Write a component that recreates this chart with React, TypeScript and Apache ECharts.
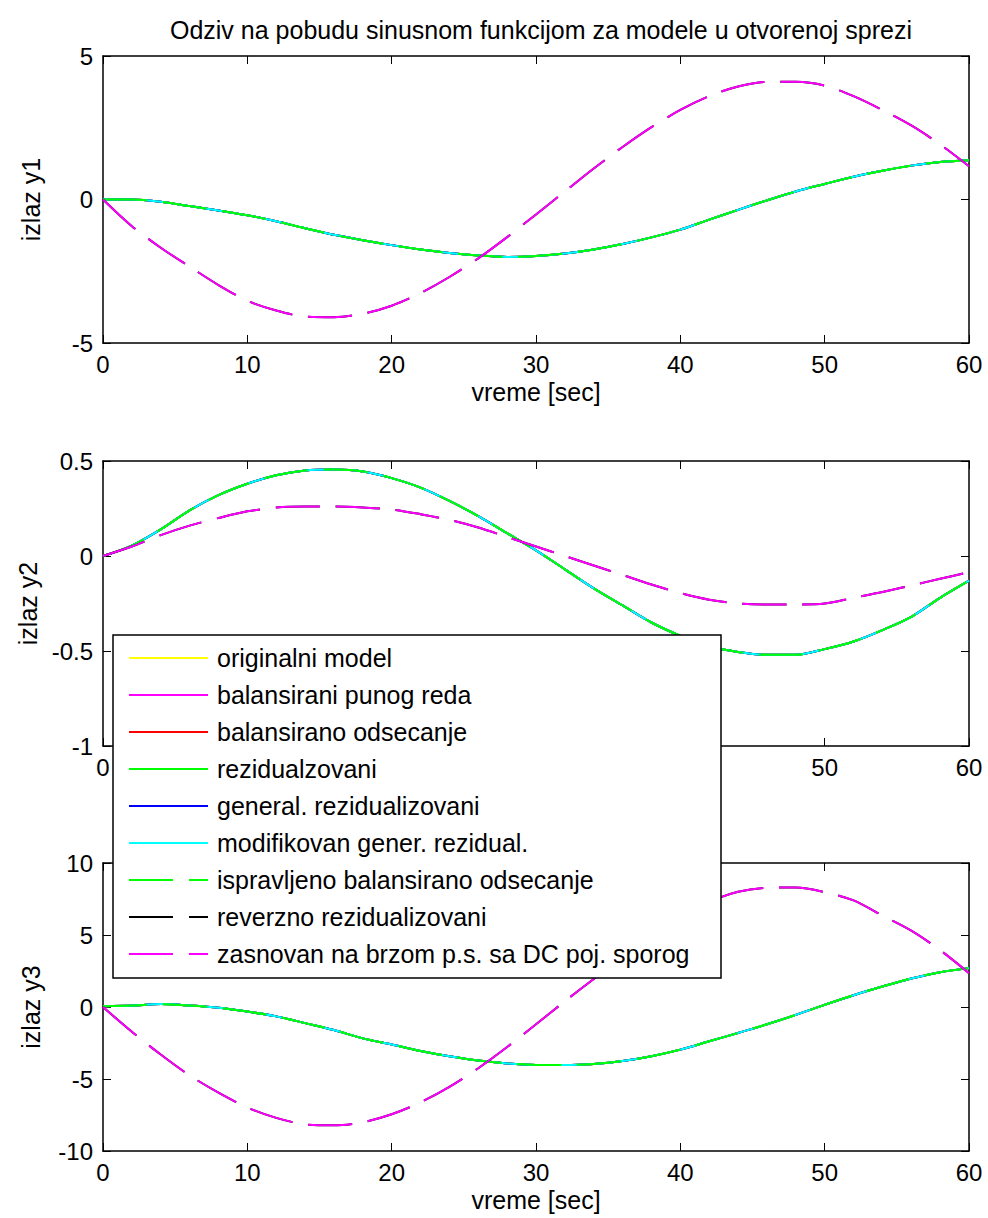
import React, { useEffect, useRef } from "react";
import * as echarts from "echarts";

const FONT = "'Liberation Sans', Arial, Helvetica, sans-serif";

const TITLE = "Odziv na pobudu sinusnom funkcijom za modele u otvorenoj sprezi";
const X_NAME = "vreme [sec]";
const Y_NAMES = ["izlaz y1", "izlaz y2", "izlaz y3"];

const T = [0, 2, 4, 6, 8, 10, 12, 14, 16, 18, 20, 22, 24, 26, 28, 30, 32, 34, 36, 38, 40, 42, 44, 46, 48, 50, 52, 54, 56, 58, 60];

// output 1
const y1Small = [0, 0, -0.08, -0.23, -0.38, -0.55, -0.76, -1.0, -1.23, -1.42, -1.59, -1.74, -1.86, -1.95, -2.0, -1.97, -1.88, -1.74, -1.55, -1.32, -1.05, -0.7, -0.36, -0.03, 0.28, 0.54, 0.79, 1.0, 1.18, 1.31, 1.37];
const y1Large = [0, -0.93, -1.68, -2.34, -2.98, -3.53, -3.87, -4.08, -4.1, -3.98, -3.7, -3.26, -2.7, -2.05, -1.31, -0.52, 0.28, 1.08, 1.83, 2.52, 3.12, 3.6, 3.94, 4.1, 4.1, 3.97, 3.6, 3.12, 2.58, 1.92, 1.16];
// output 2
const y2Small = [0, 0.055, 0.14, 0.24, 0.32, 0.38, 0.425, 0.45, 0.455, 0.445, 0.41, 0.36, 0.29, 0.21, 0.12, 0.03, -0.07, -0.17, -0.26, -0.35, -0.42, -0.475, -0.505, -0.52, -0.52, -0.49, -0.45, -0.39, -0.32, -0.22, -0.13];
const y2Large = [0, 0.05, 0.11, 0.16, 0.2, 0.235, 0.255, 0.26, 0.26, 0.255, 0.245, 0.22, 0.19, 0.15, 0.1, 0.05, 0.0, -0.05, -0.1, -0.15, -0.195, -0.23, -0.25, -0.255, -0.255, -0.25, -0.22, -0.19, -0.155, -0.12, -0.085];
// output 3
const y3Small = [0.05, 0.1, 0.2, 0.1, -0.05, -0.32, -0.65, -1.12, -1.6, -2.18, -2.6, -3.05, -3.42, -3.72, -3.92, -4.02, -4.03, -3.95, -3.75, -3.42, -2.96, -2.38, -1.8, -1.2, -0.55, 0.15, 0.82, 1.42, 1.98, 2.42, 2.7];
const y3Large = [0, -1.72, -3.3, -4.75, -5.95, -6.98, -7.7, -8.15, -8.22, -8.0, -7.45, -6.62, -5.55, -4.25, -2.78, -1.2, 0.4, 1.95, 3.45, 4.82, 6.2, 7.3, 8.0, 8.28, 8.3, 7.98, 7.4, 6.35, 5.3, 3.95, 2.35];

const SMALL = [y1Small, y2Small, y3Small];
const LARGE = [y1Large, y2Large, y3Large];

const MODEL_NAMES = [
  "originalni model",
  "balansirani punog reda",
  "balansirano odsecanje",
  "rezidualzovani",
  "general. rezidualizovani",
  "modifikovan gener. rezidual.",
  "ispravljeno balansirano odsecanje",
  "reverzno rezidualizovani",
  "zasnovan na brzom p.s. sa DC poj. sporog",
];
const MODEL_COLORS = ["#ffff00", "#ff00ff", "#ff0000", "#00ff00", "#0000ff", "#00ffff", "#00ff00", "#000000", "#ff00ff"];
const MODEL_DASHED = [false, false, false, false, false, false, true, true, true];
// which curve each model follows: 0 = small response, 1 = large response
const MODEL_CURVE = [0, 0, 0, 0, 0, 0, 0, 1, 1];

const Y_MIN = [-5, -1, -10];
const Y_MAX = [5, 0.5, 10];
const Y_STEP = [5, 0.5, 5];
// tick labels of the middle plot hidden behind the legend box
const HIDDEN_X_LABELS_PLOT2 = [10, 20, 30, 40];

const GRIDS = [
  { left: 103, top: 56, width: 866, height: 287 },
  { left: 103, top: 461, width: 866, height: 285 },
  { left: 103, top: 863, width: 866, height: 288 },
];

const LEGEND_BOX = { x: 113, y: 635, width: 608, height: 343 };
const DASH = [44, 16];

export default function App() {
  const ref = useRef<HTMLDivElement>(null);

  useEffect(() => {
    if (!ref.current) return;
    const chart = echarts.init(ref.current, undefined, { renderer: "svg" });

    const axisLine = { show: true, onZero: false, lineStyle: { color: "#000", width: 1.5 } };
    const axisTick = { show: true, inside: true, length: 8, lineStyle: { color: "#000", width: 1 } };
    const labelStyle = { color: "#000", fontSize: 24, fontFamily: FONT };

    const xAxis: any[] = [];
    const yAxis: any[] = [];
    const series: any[] = [];

    GRIDS.forEach((_, g) => {
      xAxis.push({
        type: "value",
        gridIndex: g,
        position: "bottom",
        min: 0,
        max: 60,
        interval: 10,
        axisLine,
        axisTick,
        splitLine: { show: false },
        axisLabel: {
          ...labelStyle,
          margin: 9,
          formatter: (v: number) => (g === 1 && HIDDEN_X_LABELS_PLOT2.includes(v) ? "" : String(v)),
        },
        name: g === 1 ? "" : X_NAME,
        nameLocation: "middle",
        nameGap: 36,
        nameTextStyle: { color: "#000", fontSize: 25, fontFamily: FONT },
      });
      xAxis.push({
        type: "value",
        gridIndex: g,
        position: "top",
        min: 0,
        max: 60,
        interval: 10,
        axisLine,
        axisTick,
        splitLine: { show: false },
        axisLabel: { show: false },
      });
      yAxis.push({
        type: "value",
        gridIndex: g,
        position: "left",
        min: Y_MIN[g],
        max: Y_MAX[g],
        interval: Y_STEP[g],
        axisLine,
        axisTick,
        splitLine: { show: false },
        axisLabel: { ...labelStyle, margin: 10 },
        name: Y_NAMES[g],
        nameLocation: "middle",
        nameGap: 60,
        nameTextStyle: { color: "#000", fontSize: 25, fontFamily: FONT },
      });
      yAxis.push({
        type: "value",
        gridIndex: g,
        position: "right",
        min: Y_MIN[g],
        max: Y_MAX[g],
        interval: Y_STEP[g],
        axisLine,
        axisTick,
        splitLine: { show: false },
        axisLabel: { show: false },
      });

      MODEL_NAMES.forEach((name, m) => {
        const src = MODEL_CURVE[m] === 0 ? SMALL[g] : LARGE[g];
        series.push({
          type: "line",
          name,
          xAxisIndex: 2 * g,
          yAxisIndex: 2 * g,
          data: T.map((t, i) => [t, src[i]]),
          symbol: "none",
          showSymbol: false,
          smooth: 0.3,
          color: MODEL_COLORS[m],
          lineStyle: {
            color: MODEL_COLORS[m],
            width: 2,
            type: MODEL_DASHED[m] ? DASH : "solid",
          },
          emphasis: { disabled: true },
          silent: true,
          z: 2 + m * 0.01,
        });
      });
    });

    const legendGraphics: any[] = [
      {
        type: "rect",
        z: 100,
        silent: true,
        shape: { ...LEGEND_BOX },
        style: { fill: "#fff", stroke: "#000", lineWidth: 1.5 },
      },
    ];
    MODEL_NAMES.forEach((name, m) => {
      const cy = LEGEND_BOX.y + 23 + m * 37;
      legendGraphics.push({
        type: "line",
        z: 101,
        silent: true,
        shape: { x1: LEGEND_BOX.x + 16, y1: cy, x2: LEGEND_BOX.x + 95, y2: cy },
        style: {
          stroke: MODEL_COLORS[m],
          lineWidth: 2,
          lineDash: MODEL_DASHED[m] ? DASH : null,
        },
      });
      legendGraphics.push({
        type: "text",
        z: 101,
        silent: true,
        x: LEGEND_BOX.x + 104,
        y: cy,
        style: {
          text: name,
          fill: "#000",
          fontSize: 25,
          fontFamily: FONT,
          align: "left",
          verticalAlign: "middle",
        },
      });
    });

    chart.setOption({
      animation: false,
      backgroundColor: "#fff",
      title: {
        text: TITLE,
        left: 536,
        top: 12,
        textAlign: "center",
        textStyle: { color: "#000", fontSize: 25, fontWeight: "normal", fontFamily: FONT },
      },
      grid: GRIDS.map((g) => ({ ...g, show: false, containLabel: false })),
      xAxis,
      yAxis,
      series,
      graphic: legendGraphics,
    });

    return () => chart.dispose();
  }, []);

  return (
    <div
      ref={ref}
      style={{ position: "absolute", left: 0, top: 0, width: 988, height: 1218, background: "#fff" }}
    />
  );
}
